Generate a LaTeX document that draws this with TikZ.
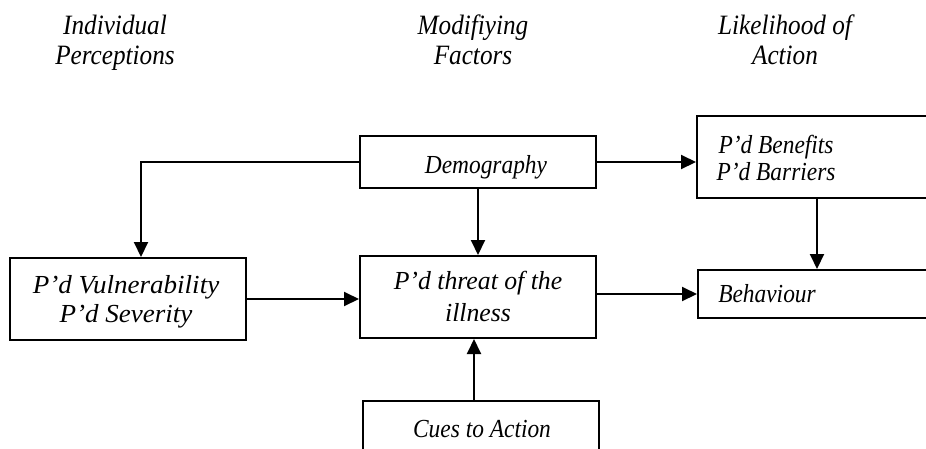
\documentclass[tikz,border=0pt]{standalone}
\usepackage{fontspec}
\setmainfont{Liberation Serif}
\newfontfamily\bodyfont[FakeStretch=0.9]{Liberation Serif}
\newfontfamily\widefont[FakeStretch=1.04]{Liberation Serif}
\newfontfamily\midfont[FakeStretch=0.99]{Liberation Serif}
\newfontfamily\headfont[FakeStretch=0.9]{Liberation Serif}
\usetikzlibrary{arrows.meta}
\begin{document}
\begin{tikzpicture}[x=1pt,y=-1pt,
  box/.style={draw, line width=2pt, rectangle, inner sep=0pt, anchor=center},
  lbl/.style={font=\bodyfont\itshape\fontsize{26}{27}\selectfont, align=center, inner sep=0pt, anchor=base},
  head/.style={font=\headfont\itshape\fontsize{28}{30}\selectfont, align=center, inner sep=0pt, anchor=base},
  arr/.style={line width=2pt, -{Triangle[length=15pt,width=14pt]}}]
\useasboundingbox (0,0) rectangle (926,448);
\clip (0,0) rectangle (926,448);
% headings
\node[head] (h1) at (115,64) {Individual\\Perceptions};
\node[head] (h2) at (473,64) {Modifiying\\Factors};
\node[head] (h3) at (785,64) {Likelihood of\\Action};
% boxes
\node[box, minimum width=236pt, minimum height=82pt] (vul) at (128,299) {};
\node[box, minimum width=236pt, minimum height=82pt] (thr) at (478,297) {};
\node[box, minimum width=236pt, minimum height=52pt] (dem) at (478,162) {};
\node[box, minimum width=234pt, minimum height=82pt] (ben) at (814,157) {};
\node[box, minimum width=232pt, minimum height=48pt] (beh) at (814,294) {};
\node[box, minimum width=236pt, minimum height=54pt] (cue) at (481,428) {};
% texts
\node[lbl, font=\widefont\itshape\fontsize{26}{29}\selectfont] (tvul) at (126,322) {P’d Vulnerability\\P’d Severity};
\node[lbl, font=\midfont\itshape\fontsize{26}{32}\selectfont] (tthr) at (478,321) {P’d threat of the\\illness};
\node[lbl] (tdem) at (486,173) {Demography};
\node[lbl] (tben) at (776,180) {P’d Benefits\\P’d Barriers};
\node[lbl] (tbeh) at (767,302) {Behaviour};
\node[lbl] (tcue) at (482,437) {Cues to Action};
% connectors
\draw[arr] (dem.west) -| ([xshift=13pt]vul.north);
\draw[arr] (dem.south) -- (thr.north);
\draw[arr] (dem.east) -- (dem.east -| ben.west);
\draw[arr] ([xshift=3pt]ben.south) -- ([xshift=3pt]ben.south |- beh.north);
\draw[arr] (vul.east) -- (vul.east -| thr.west);
\draw[arr] (beh.west -| thr.east) -- (beh.west);
\draw[arr] ([xshift=-7pt]cue.north) -- ([xshift=-7pt]cue.north |- thr.south);
\end{tikzpicture}
\end{document}
